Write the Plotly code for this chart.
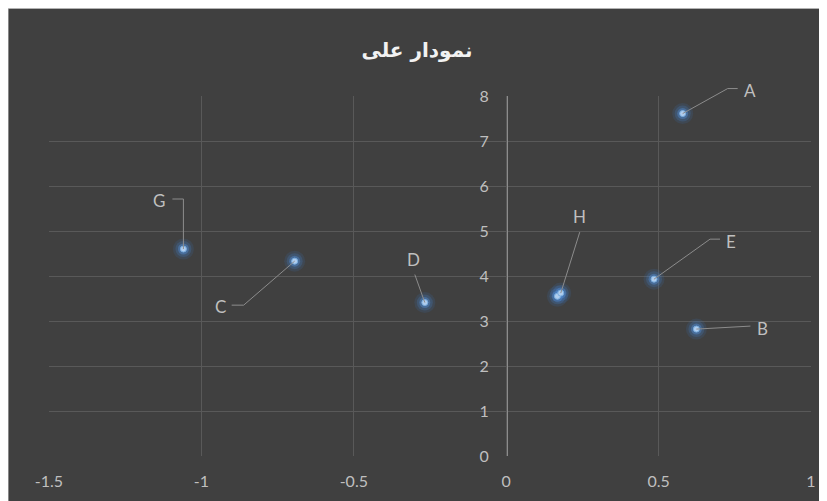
import plotly.graph_objects as go

# ---- data ----
labels = ["A", "B", "C", "D", "E", "F", "G", "H"]
x_vals = [0.579, 0.624, -0.694, -0.267, 0.485, 0.168, -1.059, 0.179]
y_vals = [7.61, 2.82, 4.33, 3.41, 3.93, 3.55, 4.60, 3.62]
x_ticks = [-1.5, -1, -0.5, 0, 0.5, 1]
x_tick_text = ["-1.5", "-1", "-0.5", "0", "0.5", "1"]
y_ticks = [0, 1, 2, 3, 4, 5, 6, 7, 8]
title_text = "نمودار علی"

X_RANGE = [-1.5, 1]
Y_RANGE = [0, 8]

# ---- styling: leader paths and label offsets in screen pixels (x right, y down) ----
leader_paths = {
    "A": [(45, -25), (55, -25)],
    "B": [(54, -3)],
    "C": [(-51, 44), (-63, 44)],
    "D": [(-10, -28)],
    "E": [(56, -40), (66, -40)],
    "G": [(0, -50), (-11, -50)],
    "H": [(19, -61)],
}
label_offsets = {
    "A": (67, -23), "B": (66, -1), "C": (-74, 45), "D": (-11, -43),
    "E": (77, -38), "G": (-24, -49), "H": (19, -77),
}
BG = "#404040"
GRID = "#595959"
TXT = "#bfbfbf"
LEAD = "#8c8c8c"
TICKFONT = "Lato, Open Sans, sans-serif"

fig = go.Figure()
# glow layers
for size, col in [(21, "rgba(60,120,200,0.14)"), (16, "rgba(70,130,210,0.22)"), (11, "rgba(85,145,220,0.4)")]:
    fig.add_trace(go.Scatter(x=x_vals, y=y_vals, mode="markers", hoverinfo="skip",
                             marker=dict(size=size, color=col, line=dict(width=0))))
fig.add_trace(go.Scatter(x=x_vals, y=y_vals, mode="markers", text=labels,
                         marker=dict(size=6, color="#b0cdee", line=dict(width=1, color="#7aaee0"))))

for lab, xv, yv in zip(labels, x_vals, y_vals):
    pts = leader_paths.get(lab)
    if pts:
        path = "M0,0 " + " ".join("L%g,%g" % (px, -py) for px, py in pts)
        y_frac = (yv - Y_RANGE[0]) / (Y_RANGE[1] - Y_RANGE[0])
        fig.add_shape(type="path", xref="x", yref="paper", xsizemode="pixel", ysizemode="pixel",
                      xanchor=xv, yanchor=y_frac, path=path,
                      line=dict(color=LEAD, width=1))
    off = label_offsets.get(lab)
    if off:
        fig.add_annotation(x=xv, y=yv, text=lab, showarrow=False, xshift=off[0], yshift=-off[1],
                           font=dict(family=TICKFONT, size=17, color=TXT))

# faint chart border
fig.add_shape(type="rect", xref="paper", yref="paper", x0=-41 / 762, x1=1.1,
              y0=-0.3, y1=1 + 87.7 / 360, fillcolor="rgba(0,0,0,0)",
              line=dict(color="#cfcfcf", width=1), layer="below")

fig.update_layout(
    width=827, height=501,
    margin=dict(l=41, r=24, t=88, b=53),
    paper_bgcolor=BG, plot_bgcolor=BG,
    showlegend=False,
    title=dict(text="<b>" + title_text + "</b>", x=(409 - 41) / 762, xref="paper", xanchor="center",
               y=1 - 42 / 501, yanchor="middle",
               font=dict(family="DejaVu Sans, sans-serif", size=20, color="#f2f2f2")),
    xaxis=dict(range=X_RANGE, tickvals=x_ticks, ticktext=x_tick_text, showgrid=True,
               gridcolor=GRID, gridwidth=1, zeroline=False, showline=False, ticks="",
               tickfont=dict(family=TICKFONT, size=16, color=TXT),
               ticklabelstandoff=14),
    yaxis=dict(range=Y_RANGE, tickvals=y_ticks, showgrid=True, gridcolor=GRID, gridwidth=1,
               zeroline=False, showline=True, linecolor=LEAD, linewidth=1, ticks="",
               anchor="free", position=(507 - 49) / 762,
               tickfont=dict(family=TICKFONT, size=16, color=TXT),
               ticklabelstandoff=15),
)

fig.write_html("out.html")
